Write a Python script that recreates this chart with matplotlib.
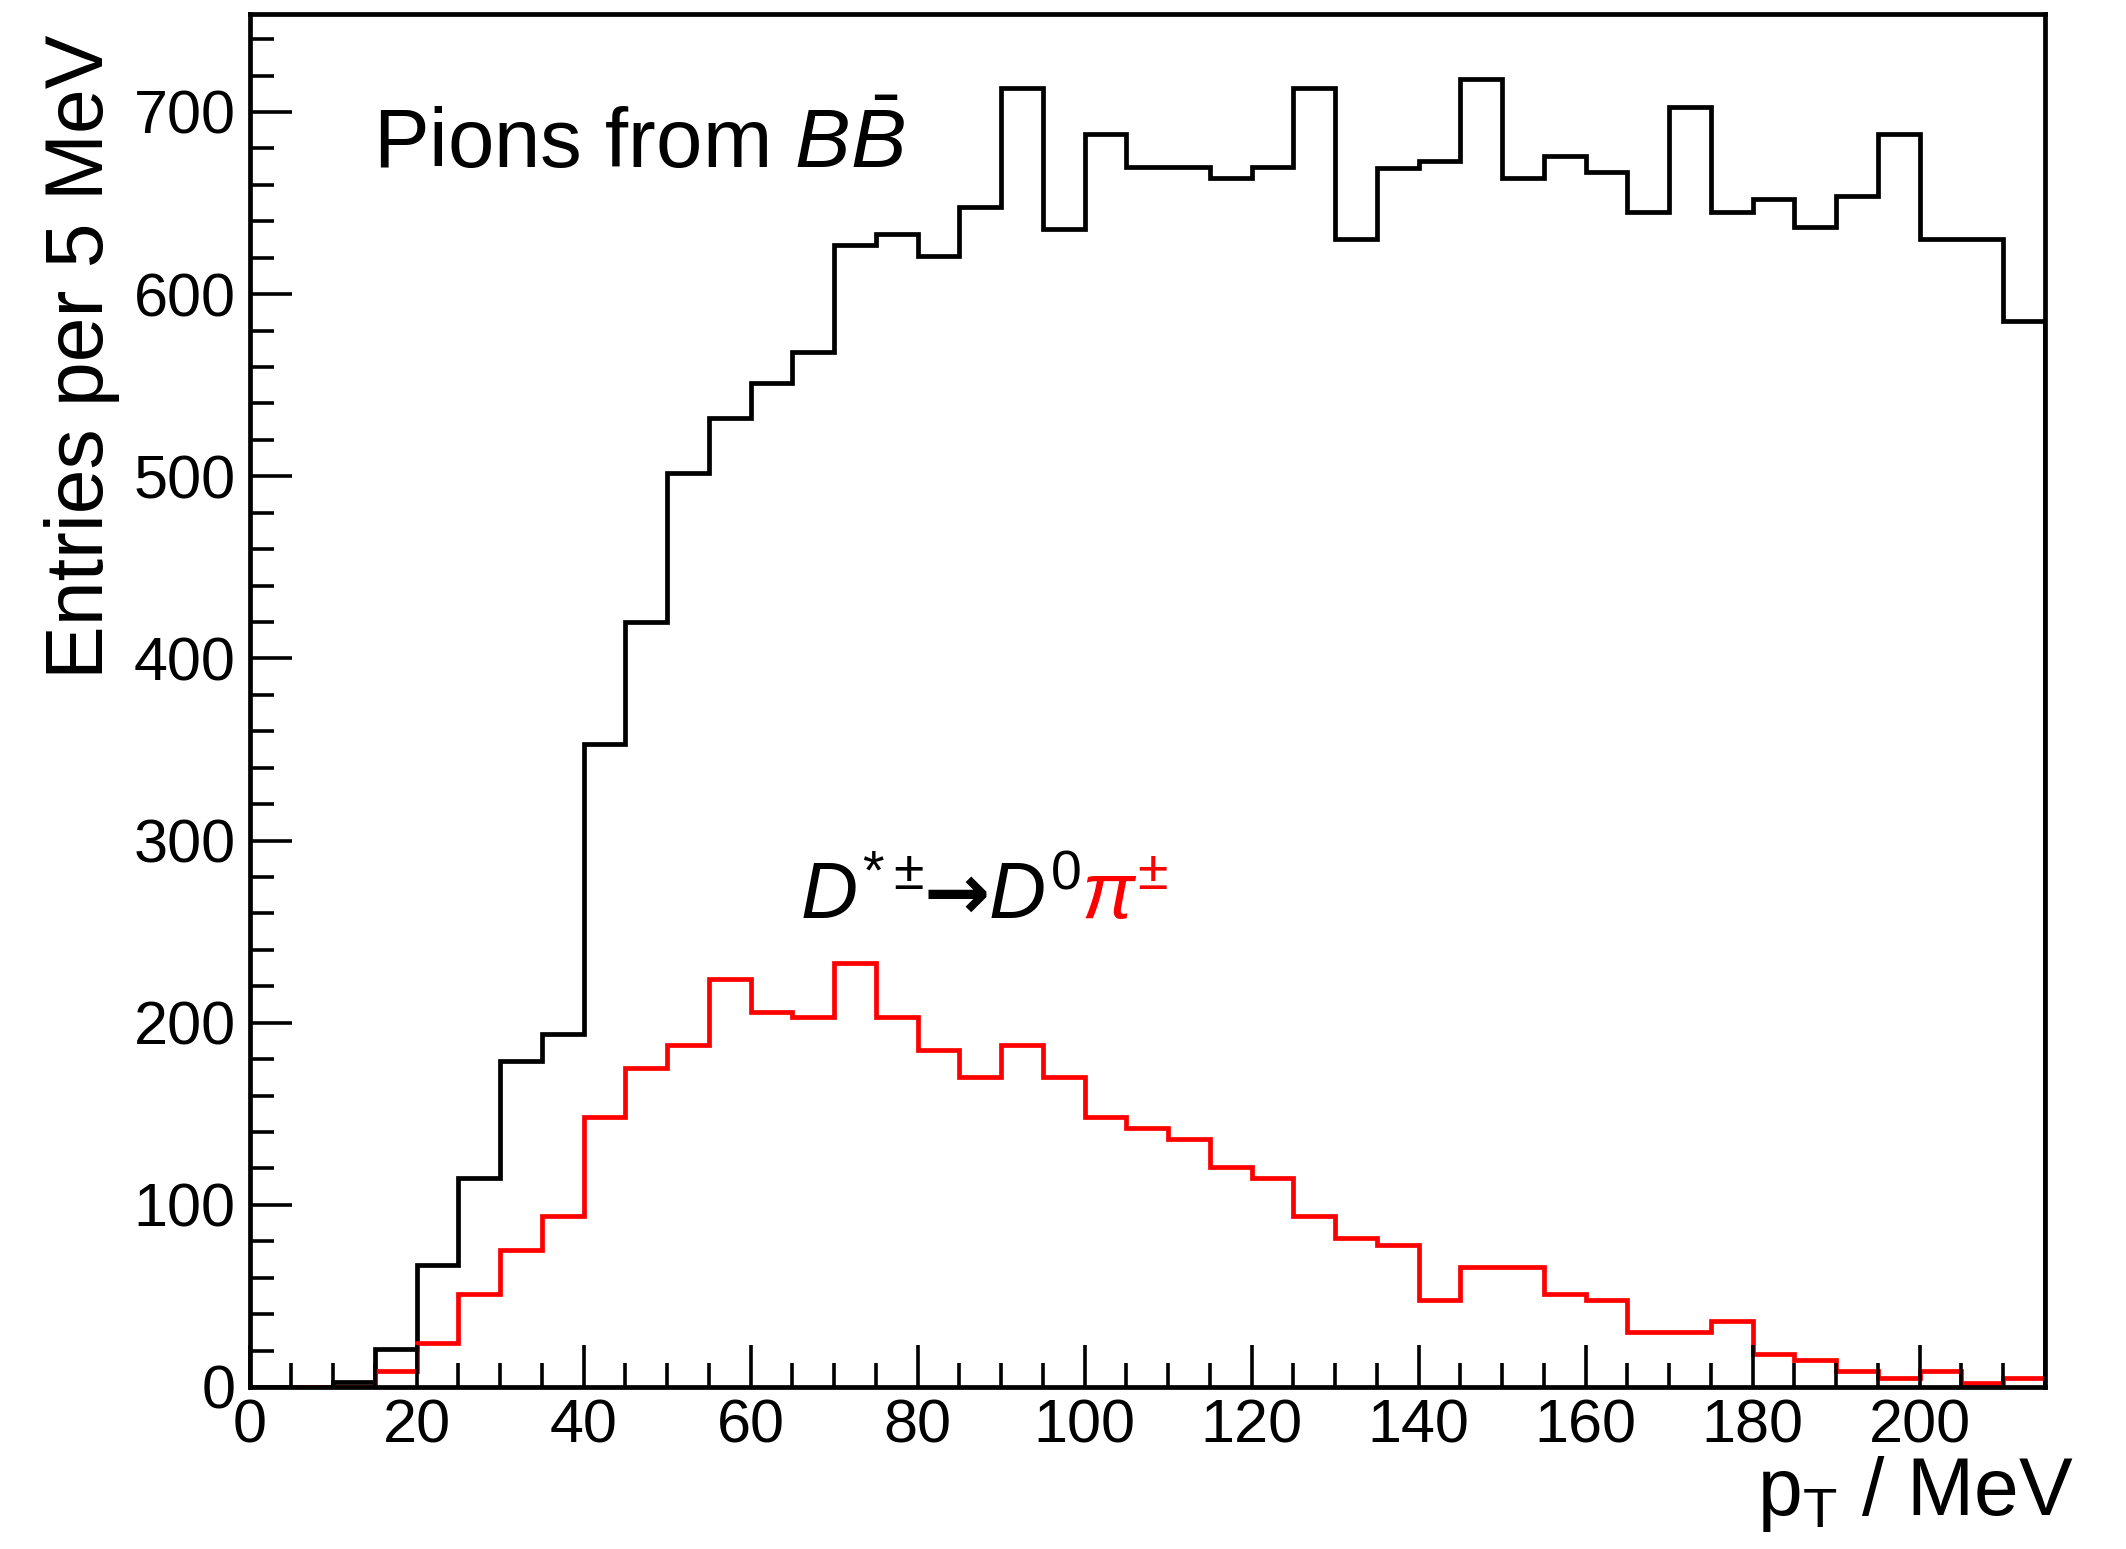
import numpy as np
import matplotlib
matplotlib.use("Agg")
import matplotlib.pyplot as plt
from matplotlib.transforms import ScaledTranslation
from matplotlib.ticker import MultipleLocator

# pT bins, 5 MeV wide, 0..215 MeV
bin_edges = np.arange(0, 220, 5)

# all pions from B Bbar events
bb_counts = [0, 0, 3, 21, 67, 115, 179, 194, 353, 420, 502, 532, 551, 568, 627, 633, 621, 648,
             713, 636, 688, 670, 670, 664, 670, 713, 630, 669, 673, 718, 664, 676, 667, 645,
             703, 645, 652, 637, 654, 688, 630, 630, 585]

# slow pions from D*+- -> D0 pi+-
dstar_counts = [0, 0, 0, 9, 24, 51, 75, 94, 148, 175, 188, 224, 206, 203, 233, 203, 185, 170,
                188, 170, 148, 142, 136, 121, 115, 94, 82, 78, 48, 66, 66, 51, 48, 30, 30, 36,
                18, 15, 9, 5, 9, 2, 5]

plt.rcParams['font.family'] = ['Liberation Sans', 'DejaVu Sans']
plt.rcParams['mathtext.fontset'] = 'custom'
plt.rcParams['mathtext.rm'] = 'Liberation Sans'
plt.rcParams['mathtext.it'] = 'Liberation Sans:italic'
plt.rcParams['mathtext.bf'] = 'Liberation Sans:bold'
plt.rcParams['mathtext.sf'] = 'Liberation Sans'

fig = plt.figure(figsize=(21.26, 15.49), dpi=100)
ax = fig.add_axes([0.1174, 0.1046, 0.8444, 0.8866])

ax.stairs(bb_counts, bin_edges, color='black', lw=3.4)
ax.stairs(dstar_counts, bin_edges, color='red', lw=3.4)

ax.set_xlim(0, 215)
ax.set_ylim(0, 754)

ax.xaxis.set_major_locator(MultipleLocator(20))
ax.xaxis.set_minor_locator(MultipleLocator(5))
ax.yaxis.set_major_locator(MultipleLocator(100))
ax.yaxis.set_minor_locator(MultipleLocator(20))
ax.tick_params(which='both', direction='in', top=False, right=False, width=2.6,
               labelsize=44)
ax.tick_params(which='major', length=30)
ax.tick_params(which='minor', length=17)
ax.tick_params(axis='y', pad=10)
ax.tick_params(axis='x', pad=8)
for sp in ax.spines.values():
    sp.set_linewidth(3.4)

ax.set_ylabel('Entries per 5 MeV', fontsize=58, loc='top')
ax.yaxis.set_label_coords(-0.072, 0.985)
ax.set_xlabel(r'p$_{\mathrm{T}}$ / MeV', fontsize=58, loc='right')
ax.xaxis.set_label_coords(1.016, -0.049)

ax.text(14.8, 669, r'Pions from $B\bar{B}$', fontsize=60, va='baseline')

# decay label, pieces placed one after the other
pieces = [(r'$D^{*\pm}$', 'black', {}, 0.0),
          ('\u2192', 'black', {'family': 'DejaVu Sans', 'fontweight': 'bold'}, 0.0),
          (r'$D^{0}$', 'black', {}, -2.0),
          (r'$\pi^{\pm}$', 'red', {}, 0.0)]
x0 = 0.0
fig.canvas.draw()
for s, c, kw, gap in pieces:
    t = ax.text(65.9, 257, s, fontsize=57, va='baseline', color=c,
                transform=ax.transData + ScaledTranslation((x0 + gap) / fig.dpi, 0,
                                                           fig.dpi_scale_trans), **kw)
    fig.canvas.draw()
    x0 += gap + t.get_window_extent().width

fig.savefig('out.png', dpi=100)
